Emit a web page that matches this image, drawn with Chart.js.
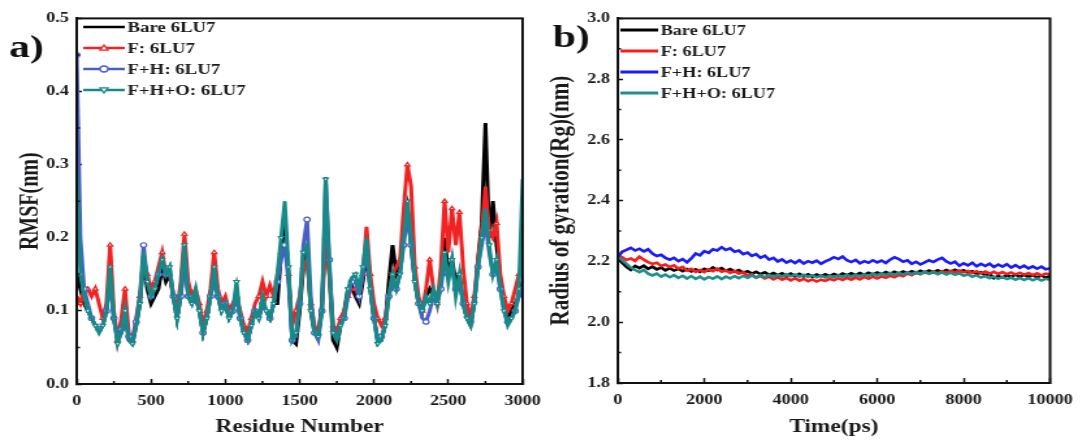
<!DOCTYPE html>
<html>
<head>
<meta charset="utf-8">
<script src="https://cdn.jsdelivr.net/npm/chart.js@4.4.1/dist/chart.umd.min.js"></script>
<style>
  html, body { margin: 0; padding: 0; background: #fff; width: 1090px; height: 443px; overflow: hidden; }
  .panel { position: absolute; top: 0; transform: scaleX(1.3); transform-origin: 0 0; }
  #wrapA { left: 0; }
  #wrapB { left: 545px; }
</style>
</head>
<body>
<div class="panel" id="wrapA"><canvas id="rmsf" width="430" height="443"></canvas></div>
<div class="panel" id="wrapB"><canvas id="rg" width="420" height="443"></canvas></div>
<script>
const FONT = "'Liberation Serif', 'Times New Roman', serif";

// ---- a) RMSF per residue (sampled every 25 residues) ----
const residues = Array.from({ length: 121 }, (_, i) => i * 25);
const seriesNames = ['Bare 6LU7', 'F: 6LU7', 'F+H: 6LU7', 'F+H+O: 6LU7'];

const bareRmsf = [
  0.15,0.13,0.11,0.10,0.09,0.08,0.075,0.08,0.10,0.15, 0.09,0.06,0.07,0.10,0.06,0.055,0.08,0.11,0.17,0.13,
  0.11,0.12,0.13,0.16,0.14,0.15,0.12,0.09,0.12,0.18, 0.12,0.11,0.12,0.10,0.07,0.09,0.12,0.15,0.12,0.10,
  0.11,0.09,0.10,0.13,0.09,0.07,0.06,0.08,0.10,0.09, 0.11,0.10,0.09,0.11,0.11,0.18,0.22,0.15,0.06,0.055,
  0.10,0.16,0.18,0.10,0.07,0.065,0.11,0.22,0.15,0.06, 0.05,0.08,0.10,0.13,0.134,0.12,0.11,0.14,0.18,0.13,
  0.09,0.06,0.06,0.08,0.14,0.19,0.15,0.16,0.21,0.24, 0.19,0.14,0.11,0.10,0.12,0.13,0.12,0.11,0.14,0.20,
  0.15,0.17,0.14,0.15,0.11,0.09,0.08,0.11,0.17,0.22, 0.357,0.20,0.25,0.19,0.14,0.11,0.09,0.10,0.11,0.12,
  0.14];
const fRmsf = [
  0.12,0.11,0.13,0.13,0.12,0.13,0.11,0.09,0.11,0.19, 0.10,0.06,0.09,0.13,0.07,0.06,0.09,0.12,0.17,0.15,
  0.13,0.14,0.16,0.18,0.15,0.15,0.12,0.10,0.14,0.205, 0.14,0.12,0.13,0.11,0.08,0.10,0.13,0.18,0.13,0.11,
  0.12,0.10,0.11,0.12,0.10,0.08,0.07,0.09,0.11,0.12, 0.14,0.12,0.135,0.12,0.15,0.18,0.19,0.15,0.08,0.10,
  0.12,0.16,0.17,0.11,0.08,0.07,0.10,0.20,0.15,0.08, 0.07,0.09,0.10,0.12,0.13,0.13,0.12,0.15,0.215,0.15,
  0.11,0.09,0.08,0.09,0.12,0.15,0.16,0.17,0.24,0.30, 0.27,0.16,0.12,0.10,0.13,0.17,0.13,0.11,0.16,0.25,
  0.18,0.24,0.19,0.235,0.16,0.11,0.09,0.12,0.17,0.21, 0.27,0.21,0.20,0.22,0.15,0.12,0.10,0.11,0.13,0.15,
  0.16];
const fhRmsf = [
  0.45,0.20,0.13,0.11,0.09,0.08,0.075,0.08,0.10,0.14, 0.09,0.06,0.075,0.10,0.065,0.06,0.085,0.12,0.19,0.14,
  0.12,0.13,0.15,0.17,0.15,0.16,0.12,0.09,0.12,0.17, 0.12,0.11,0.12,0.10,0.07,0.09,0.12,0.14,0.12,0.10,
  0.11,0.09,0.10,0.12,0.09,0.07,0.06,0.08,0.10,0.09, 0.11,0.10,0.09,0.11,0.14,0.17,0.19,0.14,0.06,0.065,
  0.11,0.19,0.225,0.12,0.07,0.06,0.10,0.283,0.17,0.07, 0.065,0.08,0.09,0.12,0.14,0.14,0.12,0.15,0.18,0.13,
  0.09,0.06,0.065,0.08,0.12,0.14,0.13,0.15,0.19,0.23, 0.19,0.14,0.11,0.09,0.085,0.10,0.12,0.11,0.13,0.17,
  0.15,0.16,0.13,0.14,0.11,0.09,0.085,0.11,0.16,0.19, 0.22,0.18,0.15,0.16,0.13,0.10,0.085,0.09,0.10,0.12,
  0.13];
const fhoRmsf = [
  0.29,0.15,0.12,0.10,0.09,0.08,0.07,0.08,0.10,0.16, 0.09,0.055,0.07,0.10,0.06,0.055,0.08,0.11,0.18,0.14,
  0.12,0.13,0.15,0.17,0.15,0.16,0.12,0.09,0.13,0.19, 0.12,0.11,0.13,0.10,0.07,0.09,0.12,0.16,0.12,0.10,
  0.11,0.09,0.10,0.14,0.09,0.07,0.06,0.08,0.10,0.09, 0.12,0.10,0.09,0.11,0.15,0.20,0.25,0.16,0.06,0.07,
  0.11,0.18,0.19,0.10,0.07,0.065,0.10,0.28,0.16,0.07, 0.06,0.08,0.09,0.13,0.145,0.15,0.13,0.16,0.20,0.13,
  0.09,0.055,0.06,0.08,0.12,0.15,0.13,0.15,0.20,0.25, 0.20,0.14,0.11,0.10,0.12,0.11,0.13,0.11,0.14,0.18,
  0.14,0.17,0.12,0.15,0.11,0.09,0.08,0.11,0.16,0.20, 0.24,0.19,0.15,0.17,0.13,0.10,0.08,0.09,0.10,0.13,
  0.28];

const rmsfMinorX = [250, 750, 1250, 1750, 2250, 2750];
const rmsfMinorY = [0.05, 0.15, 0.25, 0.35, 0.45];

// ---- b) radius of gyration over time (sampled every 100 ps) ----
const timePs = Array.from({ length: 101 }, (_, i) => i * 100);

const rgBare = [
  2.212,2.196,2.182,2.172,2.185,2.178,2.186,2.176,2.183,2.174,
  2.180,2.171,2.178,2.170,2.176,2.168,2.175,2.167,2.174,2.166,
  2.176,2.170,2.180,2.172,2.178,2.169,2.175,2.166,2.172,2.163,
  2.168,2.160,2.166,2.158,2.164,2.156,2.162,2.155,2.161,2.153,
  2.160,2.152,2.159,2.151,2.158,2.150,2.157,2.151,2.158,2.152,
  2.159,2.153,2.160,2.154,2.161,2.155,2.162,2.156,2.163,2.157,
  2.164,2.158,2.165,2.159,2.166,2.160,2.167,2.161,2.168,2.162,
  2.169,2.163,2.170,2.164,2.171,2.165,2.172,2.166,2.173,2.166,
  2.171,2.163,2.168,2.158,2.164,2.154,2.160,2.145,2.152,2.147,
  2.155,2.149,2.157,2.150,2.156,2.149,2.155,2.148,2.154,2.147,
  2.152];
const rgF = [
  2.222,2.214,2.205,2.210,2.202,2.216,2.206,2.198,2.192,2.196,
  2.185,2.190,2.182,2.187,2.176,2.182,2.170,2.176,2.166,2.172,
  2.165,2.174,2.168,2.176,2.166,2.171,2.162,2.169,2.160,2.165,
  2.153,2.158,2.147,2.152,2.144,2.150,2.141,2.148,2.140,2.146,
  2.138,2.145,2.137,2.143,2.135,2.141,2.134,2.140,2.136,2.143,
  2.138,2.145,2.139,2.146,2.140,2.147,2.141,2.149,2.143,2.150,
  2.144,2.151,2.146,2.153,2.148,2.156,2.151,2.160,2.155,2.163,
  2.158,2.166,2.160,2.167,2.161,2.168,2.162,2.169,2.163,2.170,
  2.164,2.169,2.162,2.168,2.161,2.167,2.160,2.166,2.159,2.165,
  2.158,2.164,2.157,2.163,2.156,2.162,2.155,2.161,2.154,2.160,
  2.157];
const rgFH = [
  2.215,2.232,2.238,2.245,2.236,2.242,2.233,2.240,2.226,2.218,
  2.222,2.212,2.206,2.212,2.201,2.208,2.197,2.210,2.226,2.220,
  2.234,2.228,2.240,2.236,2.247,2.238,2.243,2.232,2.236,2.224,
  2.229,2.218,2.224,2.212,2.219,2.206,2.212,2.200,2.207,2.196,
  2.203,2.195,2.204,2.193,2.201,2.196,2.203,2.192,2.200,2.206,
  2.214,2.208,2.216,2.204,2.198,2.205,2.194,2.201,2.196,2.204,
  2.197,2.203,2.195,2.206,2.214,2.208,2.199,2.204,2.192,2.199,
  2.190,2.197,2.204,2.198,2.206,2.212,2.200,2.193,2.199,2.186,
  2.194,2.187,2.196,2.184,2.192,2.185,2.193,2.182,2.190,2.183,
  2.191,2.180,2.188,2.179,2.186,2.177,2.184,2.176,2.183,2.174,
  2.178];
const rgFHO = [
  2.218,2.204,2.192,2.180,2.172,2.165,2.172,2.160,2.154,2.160,
  2.150,2.157,2.148,2.155,2.146,2.153,2.144,2.152,2.143,2.150,
  2.141,2.149,2.143,2.151,2.142,2.150,2.144,2.152,2.145,2.153,
  2.146,2.154,2.147,2.155,2.148,2.156,2.149,2.157,2.150,2.158,
  2.151,2.157,2.150,2.156,2.149,2.155,2.148,2.154,2.147,2.153,
  2.148,2.155,2.149,2.156,2.150,2.157,2.151,2.158,2.152,2.160,
  2.154,2.161,2.155,2.162,2.156,2.163,2.157,2.164,2.158,2.165,
  2.159,2.166,2.160,2.165,2.158,2.164,2.157,2.163,2.156,2.161,
  2.153,2.158,2.150,2.155,2.147,2.152,2.145,2.150,2.143,2.149,
  2.142,2.147,2.140,2.146,2.139,2.145,2.138,2.144,2.137,2.143,
  2.140];

const rgMinorX = [1000, 3000, 5000, 7000, 9000];
const rgMinorY = [1.9, 2.1, 2.3, 2.5, 2.7, 2.9];

function drawMarker(ctx, style, x, y, color) {
  const r = 3;
  ctx.save();
  ctx.fillStyle = '#fff';
  ctx.strokeStyle = color;
  ctx.lineWidth = 1.3;
  ctx.beginPath();
  if (style === 'circle') ctx.arc(x, y, r, 0, Math.PI * 2);
  else if (style === 'up') { ctx.moveTo(x, y - r); ctx.lineTo(x + r, y + r * 0.7); ctx.lineTo(x - r, y + r * 0.7); ctx.closePath(); }
  else { ctx.moveTo(x, y + r); ctx.lineTo(x + r, y - r * 0.7); ctx.lineTo(x - r, y - r * 0.7); ctx.closePath(); }
  ctx.fill();
  ctx.stroke();
  ctx.restore();
}

// frame, minor ticks, in-plot legend and panel letter
function decor(cfg) {
  return {
    id: 'decor',
    afterDraw(chart) {
      const ctx = chart.ctx, a = chart.chartArea;
      const xs = chart.scales.x, ys = chart.scales.y;
      ctx.save();
      ctx.strokeStyle = '#111';
      ctx.lineWidth = 1.5;
      ctx.beginPath();
      cfg.xMinor.forEach(v => { const p = xs.getPixelForValue(v); ctx.moveTo(p, a.bottom); ctx.lineTo(p, a.bottom - 3); });
      cfg.yMinor.forEach(v => { const p = ys.getPixelForValue(v); ctx.moveTo(a.left, p); ctx.lineTo(a.left + 2.5, p); });
      ctx.stroke();
      ctx.lineWidth = 2;
      ctx.strokeRect(a.left, a.top, a.right - a.left, a.bottom - a.top);

      ctx.font = 'bold ' + cfg.legendSize + 'px ' + FONT;
      ctx.textBaseline = 'middle';
      chart.data.datasets.forEach((ds, i) => {
        const y = cfg.rows[i];
        ctx.strokeStyle = ds.borderColor;
        ctx.lineWidth = cfg.legendWidth;
        ctx.beginPath();
        ctx.moveTo(cfg.lx0, y);
        ctx.lineTo(cfg.lx1, y);
        ctx.stroke();
        if (ds.legendMarker) drawMarker(ctx, ds.legendMarker, (cfg.lx0 + cfg.lx1) / 2, y, ds.borderColor);
        ctx.fillStyle = '#1a1a1a';
        ctx.fillText(ds.label, cfg.lx1 + 2, y + 1);
      });

      ctx.font = 'bold 32px ' + FONT;
      ctx.textBaseline = 'alphabetic';
      ctx.fillStyle = '#111';
      ctx.fillText(cfg.panel, cfg.px, cfg.py);
      ctx.restore();
    }
  };
}

function axisOptions(c) {
  const tickFont = { family: FONT, size: 14, weight: 'bold' };
  const titleFont = { family: FONT, size: 18, weight: 'bold' };
  return {
    responsive: false,
    animation: false,
    events: [],
    layout: { padding: { top: c.top, right: c.right, left: 0, bottom: 0 } },
    plugins: { legend: { display: false }, tooltip: { enabled: false } },
    elements: { line: { tension: 0 } },
    scales: {
      x: {
        type: 'linear', min: c.xMin, max: c.xMax,
        afterFit: s => { s.height = 443 - c.bottom; },
        ticks: { stepSize: c.xStep, font: tickFont, color: '#1a1a1a', padding: 14, maxRotation: 0, autoSkip: false,
                 callback: v => String(v) },
        grid: { drawOnChartArea: false, tickLength: -5, tickWidth: 1.5, tickColor: '#111' },
        border: { display: true, color: '#111', width: 2 },
        title: { display: true, text: c.xTitle, font: titleFont, color: '#1a1a1a', padding: { top: 0, bottom: 5 } }
      },
      y: {
        min: c.yMin, max: c.yMax,
        afterFit: s => { s.width = c.left; },
        ticks: { stepSize: c.yStep, font: tickFont, color: '#1a1a1a', padding: 10, callback: v => v.toFixed(1) },
        grid: { drawOnChartArea: false, tickLength: -4, tickWidth: 1.5, tickColor: '#111' },
        border: { display: true, color: '#111', width: 2 },
        title: { display: true, text: c.yTitle, font: { family: FONT, size: c.yTitleSize, weight: 'bold' },
                 color: '#1a1a1a', padding: { top: c.yTitlePad, bottom: 0 } }
      }
    }
  };
}

const every2 = off => ctx => (ctx.index % 2 === off ? 2.3 : 0);

new Chart(document.getElementById('rmsf'), {
  type: 'line',
  data: {
    labels: residues,
    datasets: [
      { label: seriesNames[0], data: bareRmsf, borderColor: '#000000', borderWidth: 3, pointRadius: 0, order: 4 },
      { label: seriesNames[1], data: fRmsf, borderColor: '#f02222', borderWidth: 3, order: 3,
        pointStyle: 'triangle', pointRadius: every2(1), pointBackgroundColor: '#fff', pointBorderColor: '#f02222', pointBorderWidth: 1.2, legendMarker: 'up' },
      { label: seriesNames[2], data: fhRmsf, borderColor: '#4b5ec8', borderWidth: 3, order: 2,
        pointStyle: 'circle', pointRadius: every2(0), pointBackgroundColor: '#fff', pointBorderColor: '#4b5ec8', pointBorderWidth: 1.2, legendMarker: 'circle' },
      { label: seriesNames[3], data: fhoRmsf, borderColor: '#178a87', borderWidth: 3, order: 1,
        pointStyle: 'triangle', pointRotation: 180, pointRadius: every2(1), pointBackgroundColor: '#fff', pointBorderColor: '#178a87', pointBorderWidth: 1.2, legendMarker: 'down' }
    ]
  },
  options: axisOptions({
    top: 14, bottom: 384, left: 59, right: 20,
    xMin: 0, xMax: 3000, xStep: 500, xTitle: 'Residue Number',
    yMin: 0, yMax: 0.5, yStep: 0.1, yTitle: 'RMSF(nm)', yTitleSize: 20, yTitlePad: 12
  }),
  plugins: [decor({ xMinor: rmsfMinorX, yMinor: rmsfMinorY, rows: [27, 48, 69, 90], lx0: 64, lx1: 96, legendWidth: 2.5, legendSize: 14.5, panel: 'a)', px: 7, py: 57 })]
});

new Chart(document.getElementById('rg'), {
  type: 'line',
  data: {
    labels: timePs,
    datasets: [
      { label: seriesNames[0], data: rgBare, borderColor: '#000000', borderWidth: 2.6, pointRadius: 0, order: 4 },
      { label: seriesNames[1], data: rgF, borderColor: '#ff1a1a', borderWidth: 2.6, pointRadius: 0, order: 3 },
      { label: seriesNames[2], data: rgFH, borderColor: '#1a1aff', borderWidth: 2.6, pointRadius: 0, order: 1 },
      { label: seriesNames[3], data: rgFHO, borderColor: '#1f8f8c', borderWidth: 2.6, pointRadius: 0, order: 2 }
    ]
  },
  options: axisOptions({
    top: 17, bottom: 383, left: 56, right: 21,
    xMin: 0, xMax: 10000, xStep: 2000, xTitle: 'Time(ps)',
    yMin: 1.8, yMax: 3.0, yStep: 0.2, yTitle: 'Radius of gyration(Rg)(nm)', yTitleSize: 21, yTitlePad: 0
  }),
  plugins: [decor({ xMinor: rgMinorX, yMinor: rgMinorY, rows: [30, 51, 72, 93], lx0: 58, lx1: 87, legendWidth: 3, legendSize: 14, panel: 'b)', px: 6, py: 47 })]
});
</script>
</body>
</html>
